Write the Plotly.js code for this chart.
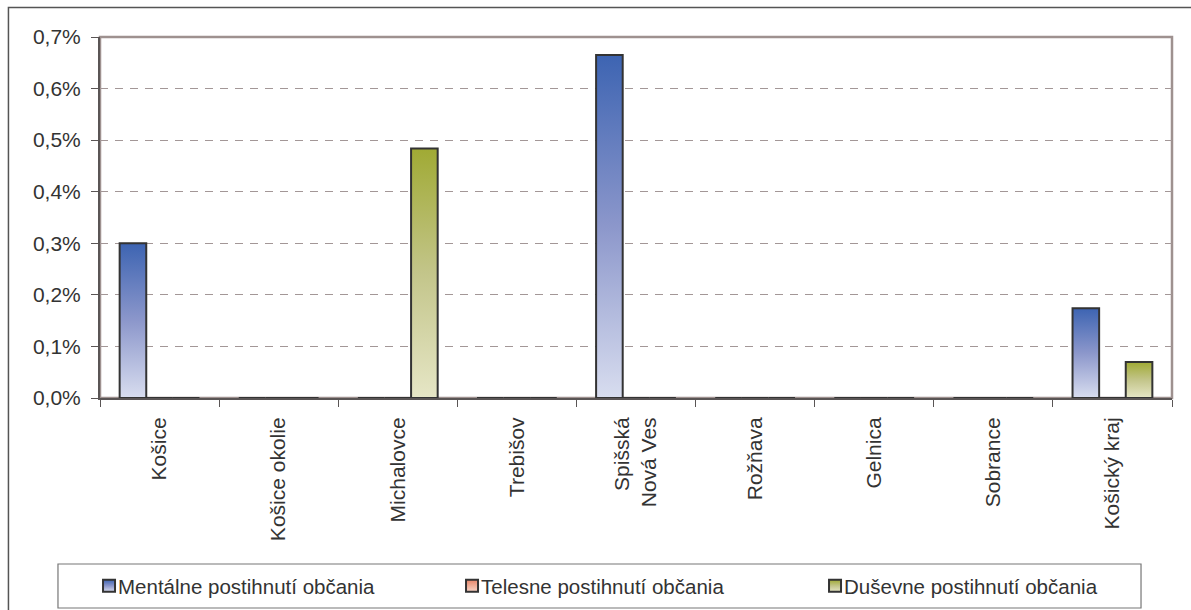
<!DOCTYPE html>
<html>
<head>
<meta charset="utf-8">
<script src="https://cdn.plot.ly/plotly-3.0.1.min.js"></script>
<style>
  html, body { margin: 0; padding: 0; background: #ffffff; }
  #chart { width: 1191px; height: 610px; }
</style>
</head>
<body>
<div id="chart"></div>
<script>
// Districts of the Košice region (x categories)
const districts = ['Košice', 'Košice okolie', 'Michalovce', 'Trebišov', 'Spišská<br>Nová Ves',
                   'Rožňava', 'Gelnica', 'Sobrance', 'Košický kraj'];

// Share of citizens with each type of disability (fractions, shown as %)
const mentalShare   = [0.0030, 0, 0, 0, 0.00665, 0, 0, 0, 0.00174];
const physicalShare = [0, 0, 0, 0, 0, 0, 0, 0, 0];
const psychShare    = [0, 0, 0.00484, 0, 0, 0, 0, 0, 0.0007];

const seriesNames = ['Mentálne postihnutí občania', 'Telesne postihnutí občania', 'Duševne postihnutí občania'];

// Vertical gradients used as bar fills (top colour -> bottom colour)
const fills = [
  { id: 'gradMental',   top: '#3d64b2', mid: '#8c97cb', bottom: '#d8ddef', flat: '#7d8fc8' },
  { id: 'gradPhysical', top: '#e8866a', mid: '#f0ae98', bottom: '#f9d6c8', flat: '#f0ae98' },
  { id: 'gradPsych',    top: '#a0aa34', mid: '#c3c58a', bottom: '#e6e6c6', flat: '#c3c58a' }
];

const FONT = 'Liberation Sans, Arial, sans-serif';
const TEXT = '#333333';

const seriesValues = [mentalShare, physicalShare, psychShare];
const traces = seriesValues.map((vals, i) => ({
  type: 'bar',
  name: seriesNames[i],
  x: districts,
  y: vals,
  marker: { color: fills[i].flat, line: { color: '#333333', width: 2 } },
  hoverinfo: 'skip'
}));

const layout = {
  width: 1191,
  height: 610,
  margin: { l: 100, r: 19, t: 37, b: 212, autoexpand: false },
  paper_bgcolor: '#ffffff',
  plot_bgcolor: '#ffffff',
  separators: ',.',
  barmode: 'group',
  bargap: 0.33,
  bargroupgap: 0,
  font: { family: FONT, size: 21, color: TEXT },
  showlegend: true,
  xaxis: {
    type: 'category',
    automargin: false,
    showgrid: false,
    zeroline: false,
    showline: true,
    linecolor: '#5a5555',
    linewidth: 2,
    ticks: 'outside',
    tickson: 'boundaries',
    ticklen: 7,
    tickcolor: '#5a5555',
    tickwidth: 1,
    tickangle: -90,
    ticklabelstandoff: 9,
    tickfont: { family: FONT, size: 21, color: TEXT }
  },
  yaxis: {
    range: [0, 0.007],
    dtick: 0.001,
    tick0: 0,
    tickformat: '.1%',
    automargin: false,
    showgrid: true,
    gridcolor: '#a39797',
    gridwidth: 1,
    griddash: '8px,7px',
    zeroline: false,
    showline: true,
    linecolor: '#5a5555',
    linewidth: 2,
    ticks: 'outside',
    ticklen: 7,
    tickcolor: '#5a5555',
    tickwidth: 1,
    ticklabelstandoff: 6,
    tickfont: { family: FONT, size: 21, color: TEXT }
  },
  legend: {
    orientation: 'h',
    x: -0.0205,
    xanchor: 'left',
    y: -0.5208,
    yanchor: 'middle',
    borderwidth: 0,
    bgcolor: 'rgba(0,0,0,0)',
    font: { family: FONT, size: 20.5, color: TEXT },
    entrywidth: 318,
    itemwidth: 30,
    traceorder: 'normal'
  },
  shapes: [
    // plot-area frame (top and right edges visible in lighter tone)
    { type: 'rect', xref: 'paper', yref: 'paper', x0: 0, x1: 1, y0: 0, y1: 1,
      line: { color: '#9e918f', width: 2.5 }, layer: 'below' },
    // outer chart frame
    { type: 'rect', xref: 'paper', yref: 'paper', x0: -0.0854, x1: 1.05, y0: -0.7, y1: 1.0817,
      line: { color: '#555555', width: 1.5 }, layer: 'below' },
    // legend frame
    { type: 'rect', xref: 'paper', yref: 'paper', x0: -0.0392, x1: 0.9711, y0: -0.5817, y1: -0.4598,
      line: { color: '#777777', width: 1.2 }, layer: 'below' }
  ]
};

function addGradients(gd) {
  const ns = 'http://www.w3.org/2000/svg';
  const svg = gd.querySelector('svg.main-svg');
  let defs = svg.querySelector('defs');
  if (!defs) { defs = document.createElementNS(ns, 'defs'); svg.insertBefore(defs, svg.firstChild); }
  fills.forEach(f => {
    if (document.getElementById(f.id)) return;
    const lg = document.createElementNS(ns, 'linearGradient');
    lg.setAttribute('id', f.id);
    lg.setAttribute('x1', '0'); lg.setAttribute('y1', '0');
    lg.setAttribute('x2', '0'); lg.setAttribute('y2', '1');
    [[0, f.top], [0.5, f.mid], [1, f.bottom]].forEach(([o, c]) => {
      const s = document.createElementNS(ns, 'stop');
      s.setAttribute('offset', o);
      s.setAttribute('stop-color', c);
      lg.appendChild(s);
    });
    defs.appendChild(lg);
  });
  gd.querySelectorAll('.barlayer .trace').forEach((tr, i) => {
    tr.querySelectorAll('path').forEach(p => { p.style.fill = 'url(#' + fills[i].id + ')'; });
  });
  gd.querySelectorAll('.legend .traces').forEach((tr, i) => {
    tr.querySelectorAll('.legendpoints path').forEach(p => { p.style.fill = 'url(#' + fills[i].id + ')'; });
    // tuck the legend swatch up against its label
    const pts = tr.querySelector('.legendpoints');
    if (pts) {
      const prev = pts.getAttribute('transform') || '';
      pts.setAttribute('transform', 'translate(11,0) ' + prev);
    }
  });
}

Plotly.newPlot('chart', traces, layout, { displayModeBar: false, staticPlot: true })
  .then(gd => addGradients(gd));
</script>
</body>
</html>
